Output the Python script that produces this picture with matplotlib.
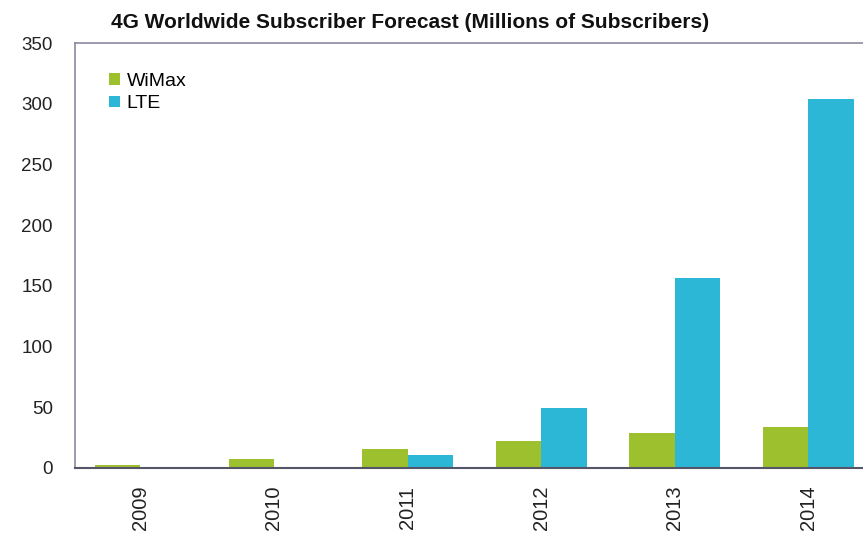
import matplotlib.pyplot as plt
import numpy as np

years = ["2009", "2010", "2011", "2012", "2013", "2014"]
wimax = [2, 7.5, 15.5, 22, 28.5, 33.5]
lte = [0, 0, 10.5, 49.5, 156.5, 304]
series_names = ["WiMax", "LTE"]
y_ticks = [0, 50, 100, 150, 200, 250, 300, 350]

GREEN = "#9dc12e"
BLUE = "#2db7d7"

plt.rcParams["font.family"] = ["Liberation Sans", "DejaVu Sans"]

fig = plt.figure(figsize=(8.63, 5.40), dpi=100)
# axes runs a bit past the right edge like the original screenshot
ax = fig.add_axes([75 / 863, (540 - 467.7) / 540, 800 / 863, (467.7 - 43) / 540])

x = np.arange(len(years))
w = 0.34
ax.bar(x - w / 2, wimax, width=w, color=GREEN, label=series_names[0])
ax.bar(x + w / 2, lte, width=w, color=BLUE, label=series_names[1])

ax.set_xlim(-0.49, 5.5)
ax.set_ylim(0, 350)
ax.set_yticks(y_ticks)
ax.set_xticks(x)
ax.set_xticklabels(years, rotation=90, fontsize=14.5, color="#222222")
ax.tick_params(axis="y", labelsize=13.5, length=0, pad=16, labelcolor="#222222")
ax.tick_params(axis="x", length=0, pad=13)

for side in ["left", "top"]:
    ax.spines[side].set_color("#8a8aa0")
    ax.spines[side].set_linewidth(1.2)
ax.spines["bottom"].set_color("#55556a")
ax.spines["bottom"].set_linewidth(1.5)
ax.spines["right"].set_visible(False)

ax.legend(loc="upper left", bbox_to_anchor=(0.033, 0.948), frameon=False,
          fontsize=14, handlelength=0.55, handleheight=0.55, handletextpad=0.35,
          labelspacing=0.28, borderaxespad=0)

fig.text(410 / 863, 1 - 22 / 540, "4G Worldwide Subscriber Forecast (Millions of Subscribers)",
         ha="center", va="center", fontsize=15, fontweight="bold", color="#111111")

fig.savefig("out.png", dpi=100)
